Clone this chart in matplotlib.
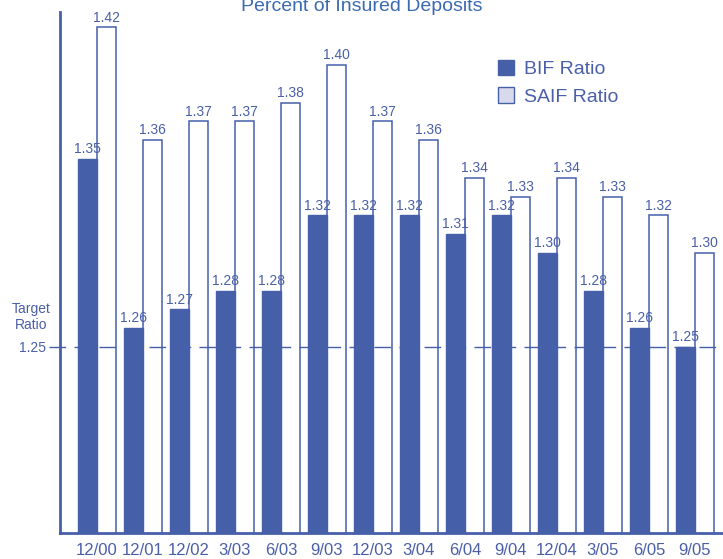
import matplotlib
matplotlib.use("Agg")
import matplotlib.pyplot as plt
from matplotlib.patches import Patch
import numpy as np

categories = ["12/00", "12/01", "12/02", "3/03", "6/03", "9/03", "12/03",
              "3/04", "6/04", "9/04", "12/04", "3/05", "6/05", "9/05"]
bif = [1.35, 1.26, 1.27, 1.28, 1.28, 1.32, 1.32, 1.32, 1.31, 1.32, 1.30, 1.28, 1.26, 1.25]
saif = [1.42, 1.36, 1.37, 1.37, 1.38, 1.40, 1.37, 1.36, 1.34, 1.33, 1.34, 1.33, 1.32, 1.30]
target = 1.25
title = "Percent of Insured Deposits"

BLUE = "#4560a9"
TXT = "#4a5fa8"
plt.rcParams['font.family'] = ['Liberation Sans', 'DejaVu Sans']

W, H = 723, 559
fig = plt.figure(figsize=(W / 100, H / 100), dpi=100)
ax = fig.add_axes([60 / W, 26 / H, 663 / W, 521 / H])

x = np.arange(len(categories))
w = 0.413
b1 = ax.bar(x - w / 2, bif, w, bottom=0, color=BLUE, edgecolor=BLUE, linewidth=1, zorder=3)
b2 = ax.bar(x + w / 2, saif, w, bottom=0, color="white", edgecolor=BLUE, linewidth=1.1, zorder=1)
ax.bar_label(b1, fmt="%.2f", padding=2, fontsize=10, color=TXT, zorder=5)
ax.bar_label(b2, fmt="%.2f", padding=2, fontsize=10, color=TXT, zorder=5)

ax.axhline(target, xmin=-11 / 663, xmax=1, color=BLUE, lw=1, dashes=(12, 6),
           zorder=2, clip_on=False)

ax.set_xlim(-0.804, 13.61)
ax.set_ylim(1.151, 1.4282)

ax.set_xticks(x)
ax.set_xticklabels(categories, fontsize=12, color=TXT)
ax.tick_params(axis='x', length=0, pad=7)
ax.set_yticks([target])
ax.set_yticklabels([f"{target:.2f}"], fontsize=10, color=TXT)
ax.tick_params(axis='y', length=0, pad=10)
ax.text((31 - 60) / 663, target + 0.008, "Target\nRatio",
        transform=ax.get_yaxis_transform(), ha='center', va='bottom',
        fontsize=10, color=TXT, linespacing=1.15)

for s in ["top", "right"]:
    ax.spines[s].set_visible(False)
for s in ["left", "bottom"]:
    ax.spines[s].set_color(BLUE)
    ax.spines[s].set_linewidth(2)

handles = [Patch(facecolor=BLUE, edgecolor=BLUE, label="BIF Ratio"),
           Patch(facecolor="#d9d9ec", edgecolor=BLUE, label="SAIF Ratio")]
leg = ax.legend(handles=handles, loc='upper left', bbox_to_anchor=(430 / 663, 1 - 40 / 521),
                frameon=False, fontsize=14, handlelength=0.85, handleheight=0.85,
                handletextpad=0.5, labelspacing=0.45, borderaxespad=0)
for t in leg.get_texts():
    t.set_color(TXT)

fig.text(362 / W, 1 - 11 / H, title, ha='center', va='baseline', fontsize=14,
         color="#3a6ab0", family=['Liberation Sans Narrow', 'Liberation Sans'])

fig.savefig("out.png", dpi=100)
